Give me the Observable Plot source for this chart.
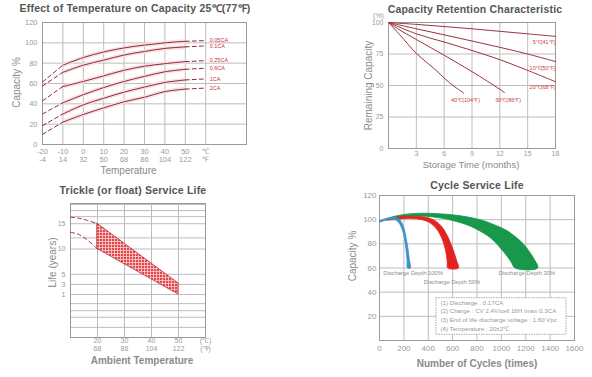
<!DOCTYPE html>
<html><head><meta charset="utf-8">
<script src="https://cdn.jsdelivr.net/npm/d3@7"></script>
<script src="https://cdn.jsdelivr.net/npm/@observablehq/plot@0.6"></script>
<style>
body{margin:0;background:#fff;font-family:"Liberation Sans",Arial,sans-serif;}
#root{position:relative;width:592px;height:377px;overflow:hidden;background:#fff;}
.panel{position:absolute;}
.title{position:absolute;font-weight:bold;color:#555;font-size:10.5px;white-space:nowrap;transform:translate(-50%,-50%);letter-spacing:0.2px;}
</style></head>
<body><div id="root"></div>
<script>
// ---------- Panel 1: Effect of Temperature on Capacity ----------
const tempC = [-20, -10, 0, 10, 20, 30, 40, 50, 60];
const tempFLabels = ["-4", "14", "32", "50", "68", "86", "104", "122", "℉"];
const rateNames = ["0.05CA", "0.1CA", "0.25CA", "0.6CA", "1CA", "2CA"];
const cap005CA = [61.5, 78, 85.5, 91, 95, 97.8, 100, 101.5, 102.2];
const cap01CA  = [57.5, 71, 78, 83, 88, 91.5, 94.5, 96, 97];
const cap025CA = [43, 57, 62, 67.5, 73, 77, 79.5, 81.5, 82.5];
const cap06CA  = [30, 41, 49, 56, 62, 67, 71.5, 74, 75];
const cap1CA   = [18.5, 30, 39, 45.5, 51.5, 56.5, 61, 63.5, 64.5];
const cap2CA   = [10, 22, 29.5, 36, 42, 46.5, 52, 54.5, 55.5];
const capTicks = [0, 20, 40, 60, 80, 100, 120];

// ---------- Panel 2: Capacity Retention ----------
const retLabels = ["5℃(41℉)", "10℃(50℉)", "20℃(68℉)", "30℃(86℉)", "40℃(104℉)"];
const ret5Months  = [0, 3, 6, 9, 12, 15, 18];
const ret5Values  = [100, 98.5, 96.8, 95, 93, 91, 89];
const ret10Months = [0, 3, 6, 9, 12, 15, 18];
const ret10Values = [100, 95, 90.2, 85.3, 80.3, 75, 69];
const ret20Months = [0, 3, 6, 9, 12, 15, 18];
const ret20Values = [100, 91, 84.5, 77.8, 70.5, 62, 53];
const ret30Months = [0, 1, 3, 6, 9, 12, 12.5];
const ret30Values = [100, 95, 86.5, 74, 61, 47, 44.5];
const ret40Months = [0, 1.25, 3, 4.9, 6.6, 8.1];
const ret40Values = [100, 90, 75.5, 63.5, 52, 44];
const retLabelMonths = [18, 18, 18, 12.9, 8.3];
const retLabelValues = [84, 64, 49, 38, 38];
const retXTicks = [3, 6, 9, 12, 15, 18];
const retYTicks = [0, 25, 50, 75, 100];

// ---------- Panel 3: Trickle service life ----------
const lifeTempC = [20, 50];
const lifeUpper = [15, 3.2];
const lifeLower = [10, 1];
const lifeDashTemp  = [10, 13, 16, 20];
const lifeDashUpper = [16.3, 16.1, 15.7, 15];
const lifeDashLower = [13.3, 12.9, 11.9, 10];
const lifeXTicks = [20, 30, 40, 50, 60];
const lifeXTickC = ["20", "30", "40", "50", "(℃)"];
const lifeXTickF = ["68", "86", "104", "122", "(℉)"];
const lifeYTicks = [15, 10, 5, 3, 1];
const lifeGrid = [18.8, 17.6, 16.4, 15, 12.2, 10, 5, 3, 1, -0.8, -2.2, -3.5, -5.5];

// ---------- Panel 4: Cycle service life ----------
const greenOuterCycles = [0, 50, 110, 200, 300, 400, 500, 600, 715, 800, 880, 960, 1045, 1120, 1180, 1230, 1265, 1298];
const greenOuterCap    = [98.5, 100.5, 102.5, 104.3, 105.2, 105.3, 104.8, 104, 102.4, 100.6, 98.3, 95, 91, 85.5, 80, 73.5, 68, 60];
const greenInnerCycles = [1112, 1080, 1045, 1000, 962, 910, 852, 780, 715, 630, 550, 460, 385, 300, 200, 120, 55, 0];
const greenInnerCap    = [60, 65, 70, 75.5, 80, 85, 89, 93, 95.8, 98.5, 100.5, 102, 102.8, 103, 102.5, 101.5, 100.3, 98];
const redOuterCycles = [60, 120, 200, 300, 380, 440, 490, 530, 560, 590, 615, 635, 648];
const redOuterCap    = [100, 101.6, 102.6, 102.8, 102, 100, 96.5, 91.5, 86, 79, 72, 65.5, 60];
const redInnerCycles = [560, 556, 550, 540, 525, 505, 478, 440, 400, 350, 280, 200, 130, 60];
const redInnerCap    = [60, 65, 70, 75.5, 81, 86, 91, 95.3, 98.2, 100, 100.8, 100.8, 100.2, 99.5];
const blueOuterCycles = [0, 40, 90, 130, 165, 190, 208, 222, 235, 245, 253];
const blueOuterCap    = [99, 100.5, 101.8, 101.8, 100, 96, 90, 83, 75, 67, 60];
const blueInnerCycles = [230, 226, 220, 210, 196, 178, 155, 125, 90, 40, 0];
const blueInnerCap    = [60, 66, 73, 81, 88.5, 94, 98, 100, 100.3, 99.3, 98];
const depthLabels = ["Discharge Depth 100%", "Discharge Depth 50%", "Discharge Depth 30%"];
const depthLabelCycles = [275, 594, 1210];
const depthLabelCap = [55.5, 48, 55.5];
const noteLines = ["(1) Discharge : 0.17CA", "(2) Charge : CV 2.4V/cell 16H Imax 0.3CA", "(3) End of life discharge voltage : 1.60 Vpc", "(4) Temperature : 20±2℃"];
const noteLineCap = [31.4, 24, 16.6, 9.4];
const noteBoxCycles = [467, 1534];
const noteBoxCap = [4.7, 35];
const cycleXTicks = [0, 200, 400, 600, 800, 1000, 1200, 1400, 1600];
const cycleYTicks = [20, 40, 60, 80, 100, 120];

// ---------- helpers ----------
const root = document.getElementById("root");
const GRID = "#bdbdbd", FRAME = "#9a9a9a", TICK = "#9a9a9a", LAB = "#8a8a8a";
const baseStyle = {fontFamily: "'Liberation Sans', Arial, sans-serif", fontSize: "8px", color: TICK, background: "transparent", overflow: "visible"};
function place(el, left, top) {
  const d = document.createElement("div");
  d.className = "panel"; d.style.left = left + "px"; d.style.top = top + "px";
  d.appendChild(el); root.appendChild(d);
}
function title(text, cx, cy) {
  const d = document.createElement("div");
  d.className = "title"; d.textContent = text;
  d.style.left = cx + "px"; d.style.top = cy + "px";
  root.appendChild(d);
}
const zip = (xs, ys, extra) => xs.map((x, i) => ({x, y: ys[i], ...extra}));
const bottomLabel = (txt, dx, dy, bold, size) => Plot.text([txt], {text: d => d, frameAnchor: "bottom", textAnchor: "middle", lineAnchor: "middle", dx, dy, fill: LAB, fontSize: size || 10, fontWeight: bold ? "bold" : "normal"});
const leftLabel = (txt, dx, dy) => Plot.text([txt], {text: d => d, frameAnchor: "left", textAnchor: "middle", lineAnchor: "middle", dx, dy, rotate: -90, fill: LAB, fontSize: 10});

// ---------- Panel 1 ----------
const capSeries = [cap005CA, cap01CA, cap025CA, cap06CA, cap1CA, cap2CA];
const p1rows = capSeries.flatMap((s, k) => tempC.map((t, i) => ({rate: rateNames[k], t, cap: s[i]})));
const p1solid = p1rows.filter(d => d.t >= -10 && d.t <= 50);
const p1dashL = p1rows.filter(d => d.t <= -10);
const p1dashR = p1rows.filter(d => d.t >= 50);
const p1labels = p1rows.filter(d => d.t === 60);
const fMap = new Map(tempC.map((c, i) => [c, tempFLabels[i]]));
const curveRed = "#8f2b3b";

const svg1 = Plot.plot({
  width: 270, height: 166, marginLeft: 42, marginRight: 24, marginTop: 8, marginBottom: 36,
  x: {domain: [-20, 80]}, y: {domain: [0, 120]}, style: baseStyle,
  marks: [
    Plot.gridX(tempC.slice(1), {stroke: GRID, strokeOpacity: 1}),
    Plot.gridY(capTicks.slice(1, -1), {stroke: GRID, strokeOpacity: 1}),
    Plot.frame({stroke: FRAME}),
    Plot.lineY(p1solid, {x: "t", y: "cap", z: "rate", stroke: "#f8dfe2", strokeWidth: 4, curve: "catmull-rom"}),
    Plot.lineY(p1solid, {x: "t", y: "cap", z: "rate", stroke: curveRed, strokeWidth: 1, curve: "catmull-rom"}),
    Plot.lineY(p1dashL, {x: "t", y: "cap", z: "rate", stroke: curveRed, strokeWidth: 1, strokeDasharray: "4,3"}),
    Plot.lineY(p1dashR, {x: "t", y: "cap", z: "rate", stroke: curveRed, strokeWidth: 1, strokeDasharray: "4,3"}),
    Plot.text(p1labels, {x: "t", y: "cap", text: "rate", dx: 4, textAnchor: "start", fill: "#c8323c", fontSize: 5.5}),
    Plot.axisX(tempC, {tickSize: 0, tickPadding: 4, tickFormat: d => d === 60 ? "℃" : String(d), fill: TICK, fontSize: 7.5, label: null}),
    Plot.axisX(tempC, {tickSize: 0, tickPadding: 12.5, tickFormat: d => fMap.get(d), fill: TICK, fontSize: 7.5, label: null}),
    Plot.axisY(capTicks, {tickSize: 0, tickPadding: 5, fill: TICK, fontSize: 7.5, label: null}),
    bottomLabel("Temperature", -16, 26, false, 10),
    leftLabel("Capacity %", -26, -1)
  ]
});
place(svg1, 0, 14);
title("Effect of Temperature on Capacity  25℃(77℉)", 135, 8);

// ---------- Panel 2 ----------
const retSets = [[ret5Months, ret5Values], [ret10Months, ret10Values], [ret20Months, ret20Values], [ret30Months, ret30Values], [ret40Months, ret40Values]];
const p2rows = retSets.flatMap(([m, v], k) => m.map((mm, i) => ({t: retLabels[k], m: mm, v: v[i]})));
const p2labels = retLabels.map((t, i) => ({t, m: retLabelMonths[i], v: retLabelValues[i], anchor: i < 3 ? "end" : "middle"}));
const svg2 = Plot.plot({
  width: 292, height: 165, marginLeft: 88, marginRight: 37, marginTop: 10, marginBottom: 29,
  x: {domain: [0, 18]}, y: {domain: [0, 100]}, style: baseStyle,
  marks: [
    Plot.gridX(retXTicks.slice(0, -1), {stroke: GRID, strokeOpacity: 1}),
    Plot.gridY(retYTicks.slice(1, -1), {stroke: GRID, strokeOpacity: 1}),
    Plot.frame({stroke: FRAME}),
    Plot.line(p2rows, {x: "m", y: "v", z: "t", stroke: "#9c3340", strokeWidth: 1, curve: "catmull-rom"}),
    Plot.text(p2labels.filter(d => d.anchor === "end"), {x: "m", y: "v", text: "t", textAnchor: "end", fill: "#cc3a44", fontSize: 5.5}),
    Plot.text(p2labels.filter(d => d.anchor === "middle"), {x: "m", y: "v", text: "t", fill: "#cc3a44", fontSize: 5.5}),
    Plot.axisX(retXTicks, {tickSize: 0, tickPadding: 2.5, fill: TICK, fontSize: 7, label: null}),
    Plot.axisY(retYTicks, {tickSize: 0, tickPadding: 5, fill: TICK, fontSize: 7, label: null}),
    Plot.text(["(%)"], {text: d => d, frameAnchor: "top-left", textAnchor: "middle", lineAnchor: "middle", dx: -10, dy: -7, fill: TICK, fontSize: 7}),
    bottomLabel("Storage Time (months)", -1, 16, false, 9.5),
    leftLabel("Remaining Capacity", -20, 0)
  ]
});
place(svg2, 300, 12);
title("Capacity Retention Characteristic", 475, 9);

// ---------- Panel 3 ----------
const p3band = lifeTempC.map((t, i) => ({t, lo: lifeLower[i], hi: lifeUpper[i]}));
const p3dashU = zip(lifeDashTemp, lifeDashUpper);
const p3dashL = zip(lifeDashTemp, lifeDashLower);
const cMap = new Map(lifeXTicks.map((t, i) => [t, lifeXTickC[i]]));
const fMap3 = new Map(lifeXTicks.map((t, i) => [t, lifeXTickF[i]]));
const svg3 = Plot.plot({
  width: 260, height: 176, marginLeft: 70, marginRight: 55, marginTop: 7, marginBottom: 35,
  x: {domain: [10, 60]}, y: {domain: [-7.5, 19]}, style: baseStyle,
  marks: [
    Plot.gridX(lifeXTicks.slice(0, -1), {stroke: GRID, strokeOpacity: 1}),
    Plot.gridY(lifeGrid, {stroke: GRID, strokeOpacity: 1}),
    Plot.frame({stroke: FRAME}),
    Plot.areaY(p3band, {x: "t", y1: "lo", y2: "hi", fill: "url(#hatch)", stroke: "#b83038", strokeWidth: 0.8}),
    Plot.line(p3dashU, {x: "x", y: "y", stroke: "#a03040", strokeWidth: 1, strokeDasharray: "4,3", curve: "catmull-rom"}),
    Plot.line(p3dashL, {x: "x", y: "y", stroke: "#a03040", strokeWidth: 1, strokeDasharray: "4,3", curve: "catmull-rom"}),
    Plot.axisX(lifeXTicks, {tickSize: 0, tickPadding: 1, tickFormat: d => cMap.get(d), fill: TICK, fontSize: 7, label: null}),
    Plot.axisX(lifeXTicks, {tickSize: 0, tickPadding: 8.5, tickFormat: d => fMap3.get(d), fill: TICK, fontSize: 7, label: null}),
    Plot.axisY(lifeYTicks, {tickSize: 0, tickPadding: 5, fill: TICK, fontSize: 7, label: null}),
    bottomLabel("Ambient Temperature", 4, 23, true, 10),
    leftLabel("Life (years)", -18, -8)
  ]
});
const defs = d3.select(svg3).insert("defs", ":first-child");
const pat = defs.append("pattern").attr("id", "hatch").attr("width", 3).attr("height", 3).attr("patternUnits", "userSpaceOnUse");
pat.append("rect").attr("width", 3).attr("height", 3).attr("fill", "#e2474b");
pat.append("path").attr("d", "M0,0.5H3M0.5,0V3").attr("stroke", "#fbd3d3").attr("stroke-width", 0.8);
place(svg3, 0, 196);
title("Trickle (or float) Service Life", 133, 190);

// ---------- Panel 4 ----------
const poly = (oc, oy, ic, iy) => [...zip(oc, oy), ...zip(ic, iy)];
const greenPoly = poly(greenOuterCycles, greenOuterCap, greenInnerCycles, greenInnerCap);
const redPoly = poly(redOuterCycles, redOuterCap, redInnerCycles, redInnerCap);
const bluePoly = poly(blueOuterCycles, blueOuterCap, blueInnerCycles, blueInnerCap);
const depthRows = depthLabels.map((t, i) => ({t, x: depthLabelCycles[i], y: depthLabelCap[i]}));
const noteRows = noteLines.map((t, i) => ({t, x: noteBoxCycles[0], y: noteLineCap[i]}));
const svg4 = Plot.plot({
  width: 292, height: 187, marginLeft: 79, marginRight: 18, marginTop: 5, marginBottom: 37,
  x: {domain: [0, 1600]}, y: {domain: [0, 120]}, style: baseStyle,
  marks: [
    Plot.gridX(cycleXTicks.slice(1, -1), {stroke: GRID, strokeOpacity: 1}),
    Plot.gridY(cycleYTicks.slice(0, -1), {stroke: GRID, strokeOpacity: 1}),
    Plot.frame({stroke: FRAME}),
    Plot.line(greenPoly, {x: "x", y: "y", fill: "#17984a", stroke: "#17984a", strokeWidth: 0.8, curve: "catmull-rom"}),
    Plot.line(redPoly, {x: "x", y: "y", fill: "#e2231f", stroke: "#e2231f", strokeWidth: 0.8, curve: "catmull-rom"}),
    Plot.line(bluePoly, {x: "x", y: "y", fill: "#3c93c8", stroke: "#3c93c8", strokeWidth: 0.8, curve: "catmull-rom"}),
    Plot.text(depthRows, {x: "x", y: "y", text: "t", fill: "#8c8c8c", fontSize: 5.8}),
    Plot.rect([0], {x1: () => noteBoxCycles[0], x2: () => noteBoxCycles[1], y1: () => noteBoxCap[0], y2: () => noteBoxCap[1], fill: "white", stroke: "#aaa", strokeDasharray: "1.5,1"}),
    Plot.text(noteRows, {x: "x", y: "y", text: "t", textAnchor: "start", dx: 4, fill: "#999", fontSize: 6.2}),
    Plot.axisX(cycleXTicks, {tickSize: 0, tickPadding: 5, tickFormat: d => String(d), fill: TICK, fontSize: 8, label: null}),
    Plot.axisY(cycleYTicks, {tickSize: 0, tickPadding: 3, tickFormat: d => String(d), fill: TICK, fontSize: 8, label: null}),
    bottomLabel("Number of Cycles (times)", 0, 23, true, 10),
    leftLabel("Capacity %", -27, -12)
  ]
});
place(svg4, 300, 190);
title("Cycle Service Life", 477, 185);
</script>
</body></html>
